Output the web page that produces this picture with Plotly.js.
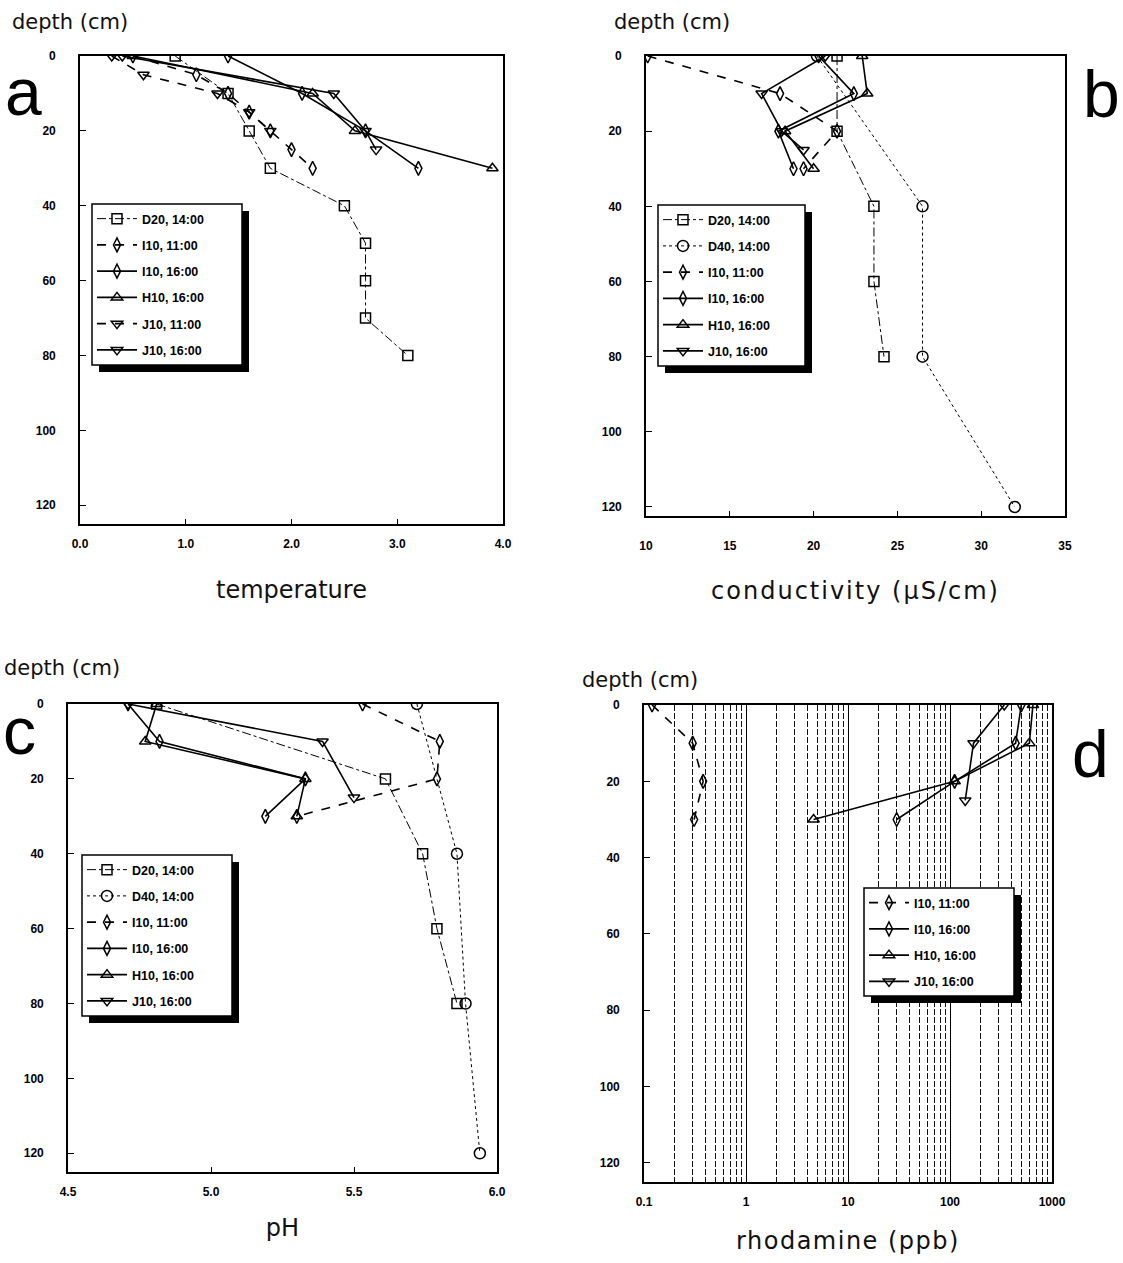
<!DOCTYPE html>
<html>
<head>
<meta charset="utf-8">
<script src="https://cdn.plot.ly/plotly-3.0.1.min.js"></script>
<style>
html,body{margin:0;padding:0;background:#fff;}
#chart{width:1123px;height:1263px;}
#chart text.x2title{letter-spacing:2px;}
#chart text.x4title{letter-spacing:1.5px;}
</style>
</head>
<body>
<div id="chart"></div>
<script>
// ---------------- DATA ----------------
const depthTicks = [0, 20, 40, 60, 80, 100, 120];

// panel a : temperature
const tempTicks = [0, 1, 2, 3, 4];
const tempTickText = ["0.0", "1.0", "2.0", "3.0", "4.0"];
const tA_D20_depth = [0, 10, 20, 30, 40, 50, 60, 70, 80];
const tA_D20 = [0.9, 1.4, 1.6, 1.8, 2.5, 2.7, 2.7, 2.7, 3.1];
const tA_I10a_depth = [0, 5, 10, 15, 20, 25, 30];
const tA_I10a = [0.5, 1.1, 1.4, 1.6, 1.8, 2.0, 2.2];
const tA_I10b_depth = [0, 10, 20, 30];
const tA_I10b = [1.4, 2.1, 2.7, 3.2];
const tA_H10_depth = [0, 10, 20, 30];
const tA_H10 = [0.5, 2.2, 2.6, 3.9];
const tA_J10a_depth = [0, 5, 10, 15, 20];
const tA_J10a = [0.3, 0.6, 1.3, 1.6, 1.8];
const tA_J10b_depth = [0, 10, 20, 25];
const tA_J10b = [0.4, 2.4, 2.7, 2.8];

// panel b : conductivity (uS/cm)
const condTicks = [10, 15, 20, 25, 30, 35];
const cB_D20_depth = [0, 20, 40, 60, 80];
const cB_D20 = [21.4, 21.4, 23.6, 23.6, 24.2];
const cB_D40_depth = [0, 40, 80, 120];
const cB_D40 = [20.2, 26.5, 26.5, 32.0];
const cB_I10a_depth = [0, 10, 20, 30];
const cB_I10a = [10.1, 18.0, 21.4, 19.4];
const cB_I10b_depth = [0, 10, 20, 30];
const cB_I10b = [20.3, 22.4, 17.9, 18.8];
const cB_H10_depth = [0, 10, 20, 30];
const cB_H10 = [22.9, 23.2, 18.3, 20.0];
const cB_J10b_depth = [0, 10, 20, 25];
const cB_J10b = [20.7, 16.9, 18.1, 19.4];

// panel c : pH
const phTicks = [4.5, 5.0, 5.5, 6.0];
const phTickText = ["4.5", "5.0", "5.5", "6.0"];
const pC_D20_depth = [0, 20, 40, 60, 80];
const pC_D20 = [4.81, 5.61, 5.74, 5.79, 5.86];
const pC_D40_depth = [0, 40, 80, 120];
const pC_D40 = [5.72, 5.86, 5.89, 5.94];
const pC_I10a_depth = [0, 10, 20, 30];
const pC_I10a = [5.53, 5.80, 5.79, 5.30];
const pC_I10b_depth = [0, 10, 20, 30];
const pC_I10b = [4.71, 4.82, 5.33, 5.19];
const pC_H10_depth = [0, 10, 20, 30];
const pC_H10 = [4.81, 4.77, 5.33, 5.30];
const pC_J10b_depth = [0, 10, 25];
const pC_J10b = [4.71, 5.39, 5.50];

// panel d : rhodamine (ppb)
const rhoTicks = [0.1, 1, 10, 100, 1000];
const rhoTickText = ["0.1", "1", "10", "100", "1000"];
const rD_I10a_depth = [0, 10, 20, 30];
const rD_I10a = [0.12, 0.30, 0.38, 0.31];
const rD_I10b_depth = [0, 10, 20, 30];
const rD_I10b = [500, 440, 111, 30];
const rD_H10_depth = [0, 10, 20, 30];
const rD_H10 = [650, 600, 111, 4.6];
const rD_J10b_depth = [0, 10, 25];
const rD_J10b = [340, 170, 141];

const names = {
  D20: "D20, 14:00", D40: "D40, 14:00",
  I10a: "I10, 11:00", I10b: "I10, 16:00",
  H10: "H10, 16:00", J10a: "J10, 11:00", J10b: "J10, 16:00"
};

// ---------------- STYLES ----------------
const styles = {
  D20:  {dash: "dashdot", w: 1,   sym: "square-open",          size: 10},
  D40:  {dash: "dot",     w: 1,   sym: "circle-open",          size: 11},
  I10a: {dash: "dash",    w: 1.6, sym: "diamond-tall-open",    size: 10},
  I10b: {dash: "solid",   w: 1.6, sym: "diamond-tall-open",    size: 10},
  H10:  {dash: "solid",   w: 1.6, sym: "triangle-up-open",     size: 10},
  J10a: {dash: "dash",    w: 1.6, sym: "triangle-down-open",   size: 10},
  J10b: {dash: "solid",   w: 1.6, sym: "triangle-down-open",   size: 10}
};

function tr(key, x, y, xa, ya, leg) {
  const s = styles[key];
  return {
    type: "scatter", mode: "lines+markers", name: names[key],
    x: x, y: y, xaxis: xa, yaxis: ya, legend: leg,
    legendgroup: leg + key,
    line: {color: "#000", width: s.w, dash: s.dash},
    marker: {symbol: s.sym, size: s.size, color: "#000", line: {color: "#000", width: 1.5}},
    hoverinfo: "x+y"
  };
}

const data = [
  tr("D20", tA_D20, tA_D20_depth, "x", "y", "legend"),
  tr("I10a", tA_I10a, tA_I10a_depth, "x", "y", "legend"),
  tr("I10b", tA_I10b, tA_I10b_depth, "x", "y", "legend"),
  tr("H10", tA_H10, tA_H10_depth, "x", "y", "legend"),
  tr("J10a", tA_J10a, tA_J10a_depth, "x", "y", "legend"),
  tr("J10b", tA_J10b, tA_J10b_depth, "x", "y", "legend"),

  tr("D20", cB_D20, cB_D20_depth, "x2", "y2", "legend2"),
  tr("D40", cB_D40, cB_D40_depth, "x2", "y2", "legend2"),
  tr("I10a", cB_I10a, cB_I10a_depth, "x2", "y2", "legend2"),
  tr("I10b", cB_I10b, cB_I10b_depth, "x2", "y2", "legend2"),
  tr("H10", cB_H10, cB_H10_depth, "x2", "y2", "legend2"),
  tr("J10b", cB_J10b, cB_J10b_depth, "x2", "y2", "legend2"),

  tr("D20", pC_D20, pC_D20_depth, "x3", "y3", "legend3"),
  tr("D40", pC_D40, pC_D40_depth, "x3", "y3", "legend3"),
  tr("I10a", pC_I10a, pC_I10a_depth, "x3", "y3", "legend3"),
  tr("I10b", pC_I10b, pC_I10b_depth, "x3", "y3", "legend3"),
  tr("H10", pC_H10, pC_H10_depth, "x3", "y3", "legend3"),
  tr("J10b", pC_J10b, pC_J10b_depth, "x3", "y3", "legend3"),

  tr("I10a", rD_I10a, rD_I10a_depth, "x4", "y4", "legend4"),
  tr("I10b", rD_I10b, rD_I10b_depth, "x4", "y4", "legend4"),
  tr("H10", rD_H10, rD_H10_depth, "x4", "y4", "legend4"),
  tr("J10b", rD_J10b, rD_J10b_depth, "x4", "y4", "legend4")
];

// ---------------- LAYOUT ----------------
const W = 1123, H = 1263;
const px = v => v / W;
const py = v => 1 - v / H;

const tickFont = {family: "Liberation Sans, Arial, sans-serif", size: 12, weight: "bold", color: "#000"};
const titleFont = {family: "DejaVu Sans, sans-serif", size: 24, color: "#111"};

function xAx(dom, anchor, extra) {
  return Object.assign({
    domain: dom, anchor: anchor, showline: true, mirror: true, linecolor: "#000", linewidth: 1.6,
    ticks: "inside", ticklen: 5, tickwidth: 1.3, tickcolor: "#000", showgrid: false, zeroline: false,
    tickfont: tickFont, ticklabelstandoff: 8, fixedrange: true
  }, extra);
}
function yAx(dom, anchor, range) {
  return {
    domain: dom, anchor: anchor, range: range, tickmode: "array", tickvals: depthTicks,
    showline: true, mirror: true, linecolor: "#000", linewidth: 1.6,
    ticks: "inside", ticklen: 6, tickwidth: 1.3, tickcolor: "#000", showgrid: false, zeroline: false,
    tickfont: tickFont, ticklabelstandoff: 20, fixedrange: true
  };
}
function legendBox(x, y) {
  return {
    x: px(x), y: py(y), xanchor: "left", yanchor: "top", xref: "paper", yref: "paper",
    bgcolor: "rgba(0,0,0,0)", bordercolor: "#000", borderwidth: 0,
    font: {family: "Liberation Sans, Arial, sans-serif", size: 12.5, weight: "bold", color: "#000"},
    traceorder: "grouped", tracegroupgap: 7, itemwidth: 40,
    itemclick: false, itemdoubleclick: false
  };
}
// letters placed by the bottom of their text box
function letter(t, x, yBottom) {
  return {text: t, x: px(x), y: py(yBottom), xref: "paper", yref: "paper", xanchor: "left", yanchor: "bottom",
    showarrow: false, font: {family: "Liberation Sans, Arial, sans-serif", size: 66, color: "#000"}};
}
function depthTitle(x, y) {
  return {text: "depth (cm)", x: px(x), y: py(y), xref: "paper", yref: "paper", xanchor: "left", yanchor: "middle",
    showarrow: false, font: {family: "DejaVu Sans, sans-serif", size: 21, color: "#111"}};
}

const layout = {
  width: W, height: H, margin: {l: 0, r: 0, t: 0, b: 0},
  paper_bgcolor: "#fff", plot_bgcolor: "#fff",
  showlegend: true,
  xaxis: xAx([px(80), px(503)], "y", {range: [0, 4], tickmode: "array", tickvals: tempTicks, ticktext: tempTickText,
    title: {text: "temperature", font: titleFont, standoff: 31}}),
  yaxis: yAx([py(524), py(56)], "x", [125, 0]),
  xaxis2: xAx([px(646), px(1065)], "y2", {range: [10, 35], tickmode: "array", tickvals: condTicks, ticklabelstandoff: 18,
    title: {text: "conductivity (μS/cm)", font: titleFont, standoff: 30}}),
  yaxis2: yAx([py(516), py(56)], "x2", [122.4, 0]),
  xaxis3: xAx([px(68), px(497)], "y3", {range: [4.5, 6.0], tickmode: "array", tickvals: phTicks, ticktext: phTickText,
    title: {text: "pH", font: titleFont, standoff: 21}}),
  yaxis3: yAx([py(1172), py(704)], "x3", [125, 0]),
  xaxis4: xAx([px(644), px(1052)], "y4", {type: "log", range: [-1, 3], tickmode: "array", tickvals: rhoTicks, ticktext: rhoTickText,
    ticks: "", showgrid: true, gridcolor: "#000", gridwidth: 1.4,
    minor: {dtick: "D1", showgrid: true, gridcolor: "#111", gridwidth: 1, griddash: "6px,2px", ticks: ""},
    title: {text: "rhodamine (ppb)", font: titleFont, standoff: 24}}),
  yaxis4: yAx([py(1182), py(705)], "x4", [125, 0]),
  legend: legendBox(92, 204),
  legend2: legendBox(658, 205),
  legend3: legendBox(82, 855),
  legend4: legendBox(864, 888),
  annotations: [
    letter("a", 3, 131), letter("b", 1081, 133), letter("c", 1, 770), letter("d", 1070, 793),
    depthTitle(10, 22), depthTitle(612, 22), depthTitle(2, 668), depthTitle(580, 680)
  ]
};

// legend frame widths (px) as in the original figure
const legendWidths = {legend: 150, legend2: 147, legend3: 150, legend4: 150};

Plotly.newPlot("chart", data, layout, {displayModeBar: false}).then(function (gd) {
  // framed box with drop shadow behind each legend
  const box = gd.getBoundingClientRect();
  const shapes = [];
  Object.keys(legendWidths).forEach(function (id) {
    const bg = gd.querySelector("g." + id + " rect.bg");
    if (!bg) return;
    const r = bg.getBoundingClientRect();
    const l = r.left - box.left, t = r.top - box.top, h = r.height, w = legendWidths[id];
    shapes.push({type: "rect", xref: "paper", yref: "paper", layer: "above",
      x0: px(l + 7), x1: px(l + w + 7), y0: py(t + h + 7), y1: py(t + 7),
      fillcolor: "#000", line: {width: 0}});
    shapes.push({type: "rect", xref: "paper", yref: "paper", layer: "above",
      x0: px(l), x1: px(l + w), y0: py(t + h), y1: py(t),
      fillcolor: "#fff", line: {color: "#000", width: 1.5}});
  });
  return Plotly.relayout(gd, {shapes: shapes});
});
</script>
</body>
</html>
